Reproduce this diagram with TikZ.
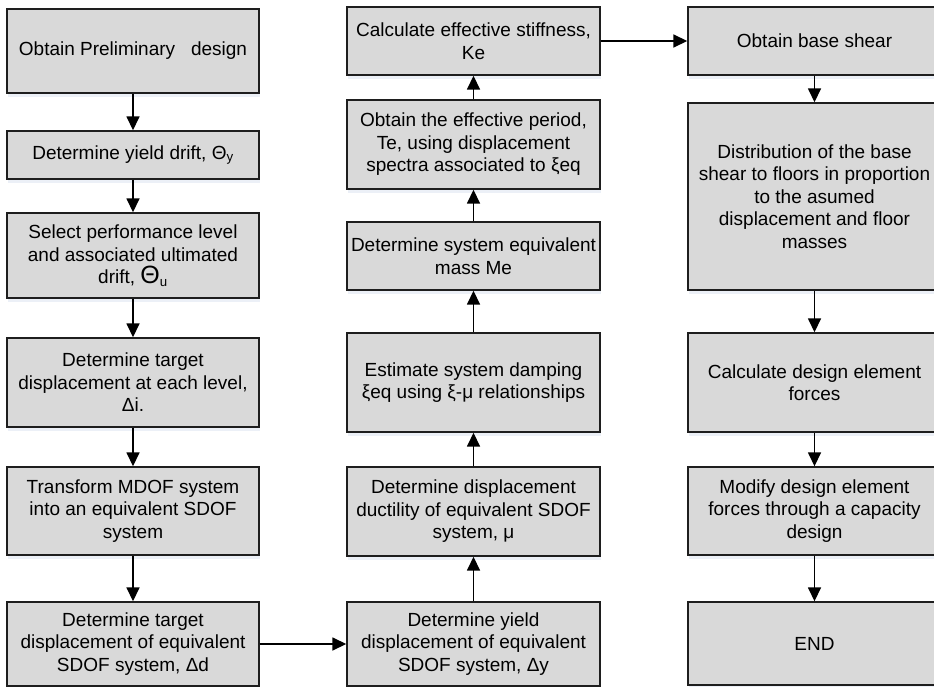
\documentclass[tikz,border=0pt]{standalone}
\usepackage{fontspec}
\setmainfont{Liberation Sans}
\usetikzlibrary{arrows.meta,shadows}
\definecolor{boxfill}{RGB}{217,217,217}
\definecolor{boxline}{RGB}{30,30,30}
\definecolor{shadowblue}{RGB}{150,175,215}
\tikzset{
  stepbox/.style={draw=boxline, line width=1.4pt, fill=boxfill, rectangle,
    inner sep=2pt, align=center,
    font=\fontsize{19}{22.5}\selectfont,
    drop shadow={shadow xshift=1pt, shadow yshift=-4pt, opacity=0.18, fill=shadowblue}},
  flow/.style={line width=1.6pt, -{Triangle[width=13pt,length=14pt]}}
}
\begin{document}
\begin{tikzpicture}[x=1pt,y=-1pt]
\useasboundingbox (0,0) rectangle (934,687);
\clip (0,0) rectangle (934,687);
\fill[white] (0,0) rectangle (934,687);

% left column: preliminary steps
\node[stepbox, minimum width=252pt, minimum height=84pt] (a1) at (133,51) {Obtain Preliminary\ \ \ design};
\node[stepbox, minimum width=252pt, minimum height=48pt] (a2) at (133,155) {Determine yield drift, Θ\textsubscript{y}};
\node[stepbox, minimum width=252pt, minimum height=85pt] (a3) at (133,255.5) {Select performance level\\and associated ultimated\\drift, {\fontsize{25}{22.5}\selectfont Θ}\textsubscript{u}};
\node[stepbox, minimum width=252pt, minimum height=89pt] (a4) at (133,382.5) {Determine target\\displacement at each level,\\Δi.};
\node[stepbox, minimum width=252pt, minimum height=88pt] (a5) at (133,511) {Transform MDOF system\\into an equivalent SDOF\\system};
\node[stepbox, minimum width=252pt, minimum height=84pt] (a6) at (133,644) {Determine target\\displacement of equivalent\\SDOF system, Δd};

% middle column: equivalent SDOF properties
\node[stepbox, minimum width=253pt, minimum height=84pt] (b6) at (473.5,644) {Determine yield\\displacement of equivalent\\SDOF system, Δy};
\node[stepbox, minimum width=253pt, minimum height=89pt] (b5) at (473.5,511.5) {Determine displacement\\ductility of equivalent SDOF\\system, μ};
\node[stepbox, minimum width=253pt, minimum height=99pt] (b4) at (473.5,382.5) {Estimate system damping\\ξeq using ξ-μ relationships};
\node[stepbox, minimum width=253pt, minimum height=68pt] (b3) at (473.5,256) {Determine system equivalent\\mass Me};
\node[stepbox, minimum width=253pt, minimum height=89pt] (b2) at (473.5,144.5) {Obtain the effective period,\\Te, using displacement\\spectra associated to ξeq};
\node[stepbox, minimum width=253pt, minimum height=68pt] (b1) at (473.5,41) {Calculate effective stiffness,\\Ke};

% right column: forces and design
\node[stepbox, minimum width=253pt, minimum height=68pt] (c1) at (814.5,41) {Obtain base shear};
\node[stepbox, minimum width=253pt, minimum height=187pt] (c2) at (814.5,196.5) {Distribution of the base\\shear to floors in proportion\\to the asumed\\displacement and floor\\masses};
\node[stepbox, minimum width=253pt, minimum height=99pt] (c3) at (814.5,382.5) {Calculate design element\\forces};
\node[stepbox, minimum width=253pt, minimum height=88pt] (c4) at (814.5,511) {Modify design element\\forces through a capacity\\design};
\node[stepbox, minimum width=253pt, minimum height=83pt] (c5) at (814.5,643.5) {END};

% connectors
\draw[flow] (a1) -- (a2);
\draw[flow] (a2) -- (a3);
\draw[flow] (a3) -- (a4);
\draw[flow] (a4) -- (a5);
\draw[flow] (a5) -- (a6);
\draw[flow] (a6) -- (b6);
\draw[flow] (b6) -- (b5);
\draw[flow] (b5) -- (b4);
\draw[flow] (b4) -- (b3);
\draw[flow] (b3) -- (b2);
\draw[flow] (b2) -- (b1);
\draw[flow] (b1) -- (c1);
\draw[flow] (c1) -- (c2);
\draw[flow] (c2) -- (c3);
\draw[flow] (c3) -- (c4);
\draw[flow] (c4) -- (c5);
\end{tikzpicture}
\end{document}
